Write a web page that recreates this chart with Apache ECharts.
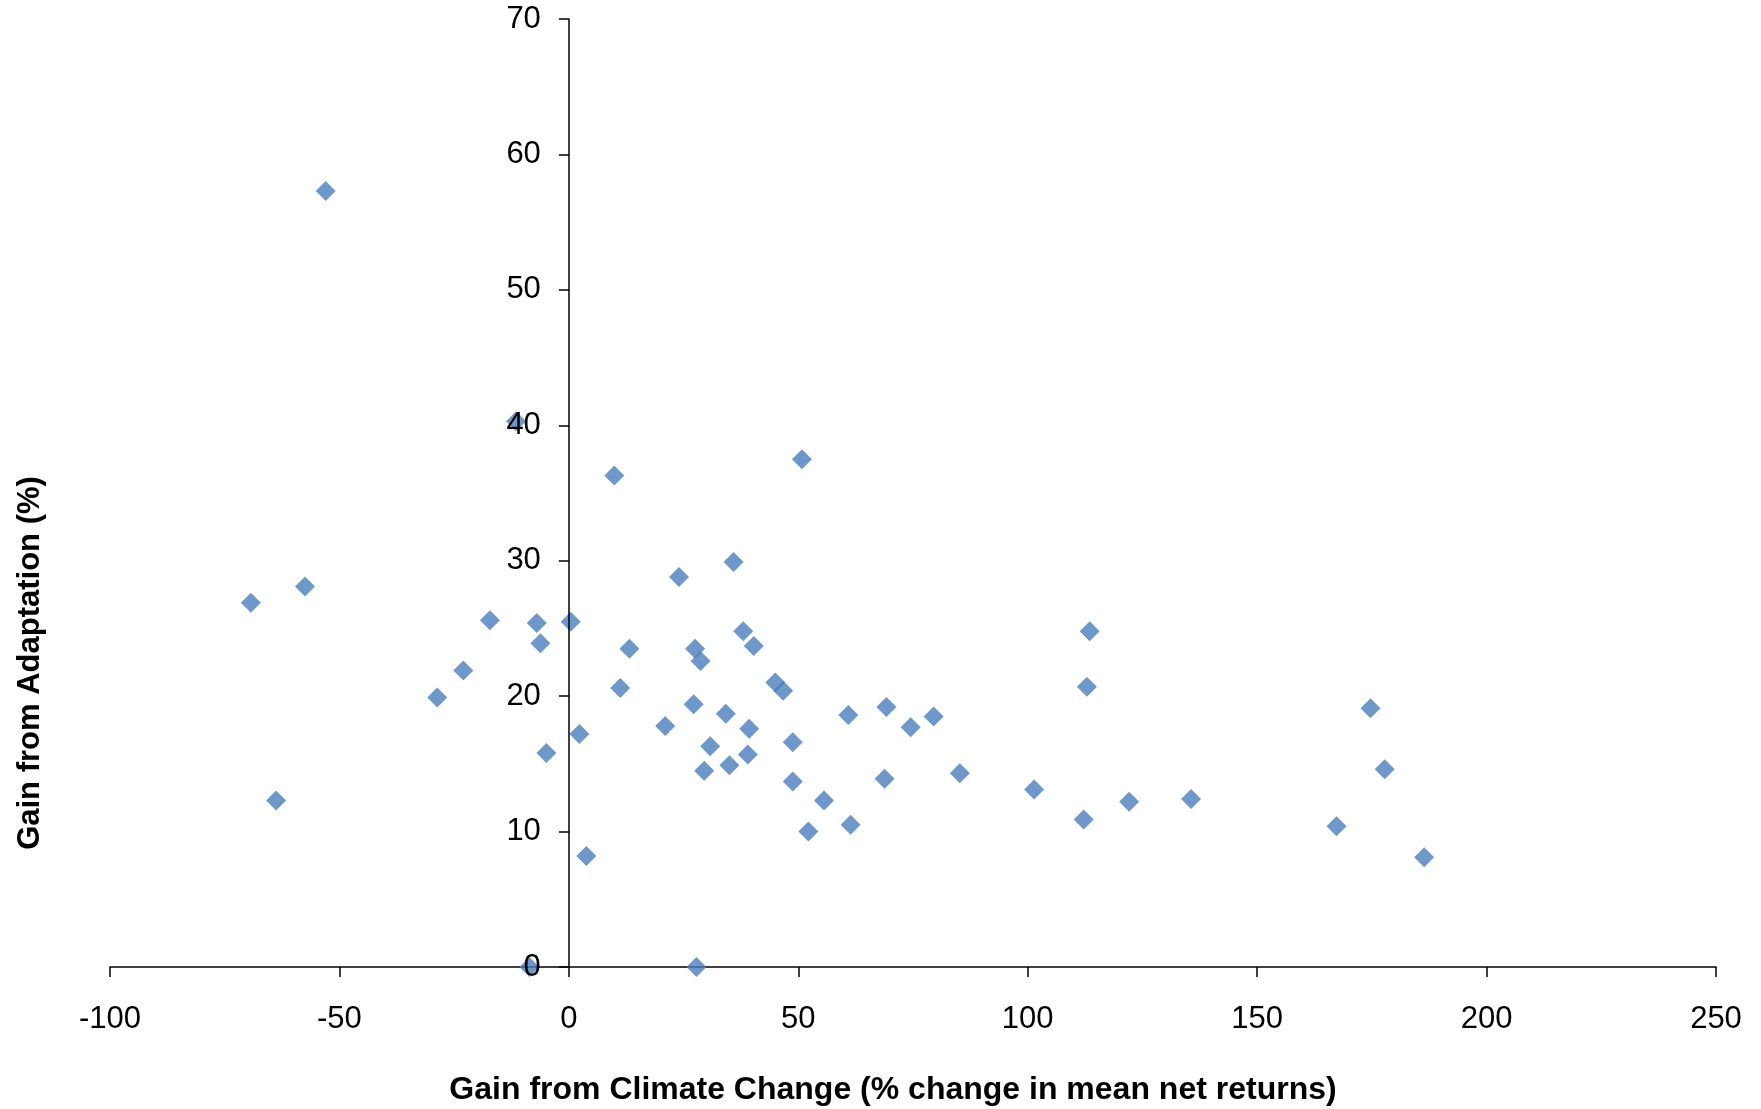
<!DOCTYPE html>
<html>
<head>
<meta charset="utf-8">
<script src="https://cdn.jsdelivr.net/npm/echarts@6/dist/echarts.min.js"></script>
<style>
html,body{margin:0;padding:0;background:#fff;}
#chart{width:1761px;height:1109px;}
</style>
</head>
<body>
<div id="chart"></div>
<script>
// Gain from Climate Change (%) vs Gain from Adaptation (%)
var climateGain = [-53.0,-11.5,-69.3,-57.5,-63.8,-28.7,-23.0,-17.2,-7.0,-6.2,-4.9,0.4,2.3,3.8,9.9,11.2,13.2,21.0,24.0,27.2,27.5,28.7,29.5,30.8,27.8,-8.6,34.2,35.0,35.9,38.0,39.0,39.3,40.3,45.0,46.7,48.8,48.8,50.8,52.2,55.6,60.9,61.4,68.8,69.2,74.5,79.5,85.2,101.4,112.2,112.9,113.5,122.1,135.6,167.3,174.7,177.8,186.4];
var adaptationGain = [57.3,40.3,26.9,28.1,12.3,19.9,21.9,25.6,25.4,23.9,15.8,25.5,17.2,8.2,36.3,20.6,23.5,17.8,28.8,19.4,23.5,22.6,14.5,16.3,0,0,18.7,14.9,29.9,24.8,15.7,17.6,23.7,21.0,20.4,16.6,13.7,37.5,10.0,12.3,18.6,10.5,13.9,19.2,17.7,18.5,14.3,13.1,10.9,20.7,24.8,12.2,12.4,10.4,19.1,14.6,8.1];
var xTitle = 'Gain from Climate Change (% change in mean net returns)';
var yTitle = 'Gain from Adaptation (%)';

var points = climateGain.map(function(v, i){ return [v, adaptationGain[i]]; });

var chart = echarts.init(document.getElementById('chart'), null, {renderer:'canvas'});
var font = '"Liberation Sans", Arial, sans-serif';
var gridLeft = 110;
chart.setOption({
  backgroundColor: '#ffffff',
  animation: false,
  grid: {left: gridLeft, right: 45, top: 19, bottom: 142, containLabel: false},
  xAxis: {
    type: 'value', min: -100, max: 250, interval: 50,
    axisLine: {show: true, onZero: true, lineStyle: {color: '#000', width: 1.5}},
    axisTick: {show: true, length: 10, lineStyle: {color: '#000', width: 1.5}},
    axisLabel: {color: '#000', fontSize: 31, fontFamily: font, margin: 37},
    splitLine: {show: false}
  },
  yAxis: {
    type: 'value', min: 0, max: 70, interval: 10, z: 3,
    axisLine: {show: true, onZero: false, lineStyle: {color: '#000', width: 1.5}},
    axisTick: {show: true, length: 10, lineStyle: {color: '#000', width: 1.5}},
    axisLabel: {color: '#000', fontSize: 31, fontFamily: font, margin: 28},
    splitLine: {show: false}
  },
  graphic: [
    {type: 'text', x: 893, y: 1090, style: {text: xTitle, font: 'bold 32px ' + font, fill: '#000', textAlign: 'center', textVerticalAlign: 'middle'}},
    {type: 'text', x: 30, y: 663, rotation: Math.PI/2, style: {text: yTitle, font: 'bold 31px ' + font, fill: '#000', textAlign: 'center', textVerticalAlign: 'middle'}}
  ],
  series: [{
    type: 'scatter',
    symbol: 'diamond',
    symbolSize: 20,
    itemStyle: {color: '#4a7ebb'},
    data: points
  }]
});
// place the y axis where x = 0 (axis crosses at zero)
var zeroPx = chart.convertToPixel({xAxisIndex: 0}, 0);
chart.setOption({yAxis: {offset: -(zeroPx - gridLeft)}});
</script>
</body>
</html>
